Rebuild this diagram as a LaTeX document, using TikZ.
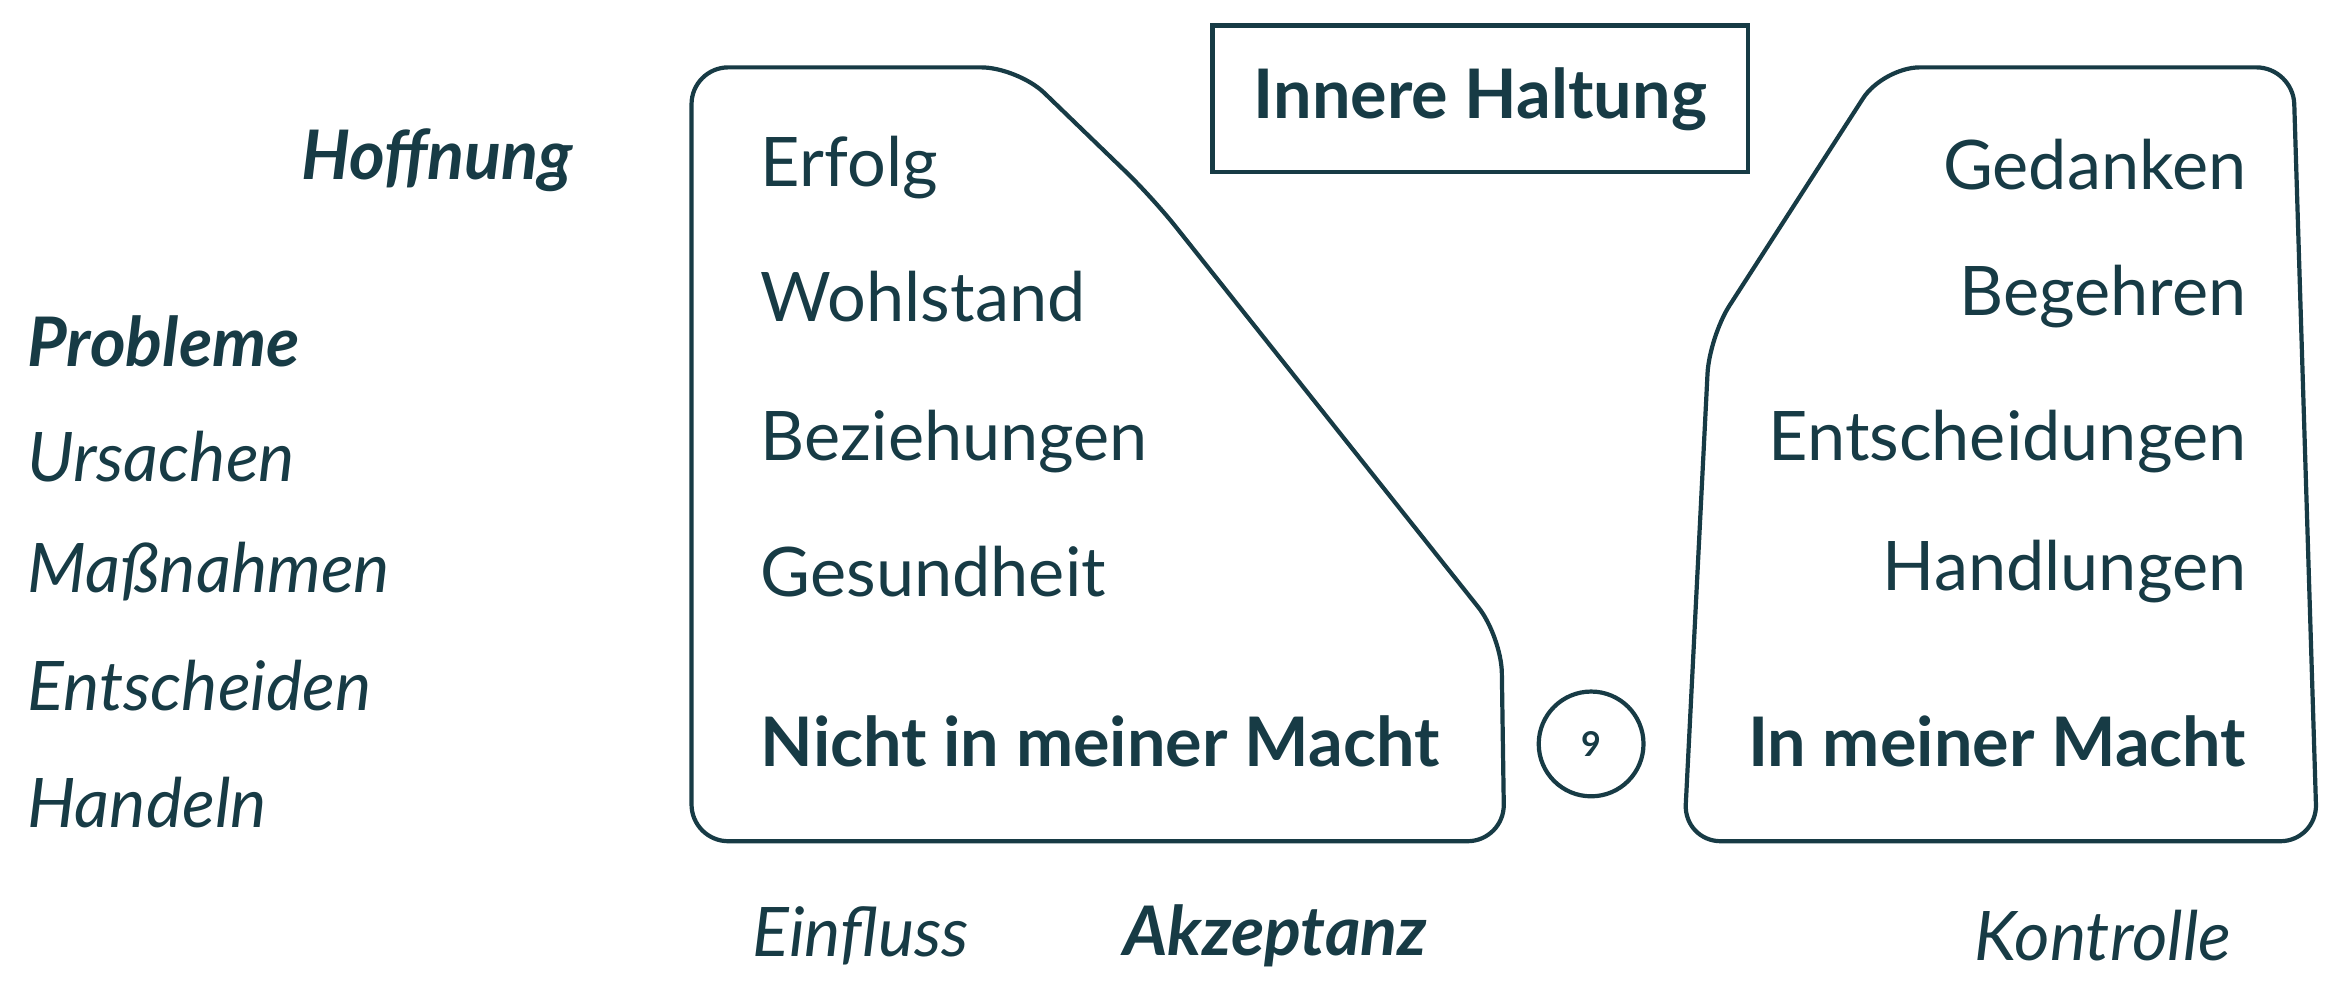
\documentclass[tikz,border=0pt]{standalone}
\usepackage{fontspec}
\setmainfont{Lato}
\definecolor{ink}{HTML}{173B45}
\begin{document}
\begin{tikzpicture}[x=0.02cm,y=-0.02cm,
  txt/.style={font=\fontsize{26}{30}\selectfont,text=ink,inner sep=0pt},
  bld/.style={txt,font=\fontsize{26}{30}\selectfont\bfseries},
  itl/.style={txt,font=\fontsize{26}{30}\selectfont\itshape},
  bit/.style={txt,font=\fontsize{26}{30}\selectfont\bfseries\itshape},
  shp/.style={draw=ink,line width=1.6pt,rounded corners=14}]
\useasboundingbox (0,0) rectangle (1568,670);
% left shape
\draw[shp] (462,45) -- (680,45) -- (770,132) -- (1003,425) -- (1005,562) -- (462,562) -- cycle;
% right shape
\draw[shp] (1258,45) -- (1532,45) -- (1548,562) -- (1125,562) -- (1142,225) -- cycle;
\node[draw=ink,line width=1.6pt,minimum width=358*0.02cm,minimum height=98*0.02cm,bld] (ih) at (989,66) {Innere Haltung};
\node[draw=ink,line width=1.6pt,circle,minimum size=70*0.02cm,inner sep=0pt,font=\fontsize{13}{15}\selectfont\bfseries,text=ink] (nine) at (1063,497) {9};
\node[bit,anchor=east] (hof) at (383,107) {Hoffnung};
\node[bit,anchor=west] (pro) at (18,228) {Probleme};
\node[itl,anchor=west] (urs) at (18,305) {Ursachen};
\node[itl,anchor=west] (mas) at (18,382) {Maßnahmen};
\node[itl,anchor=west] (ent) at (18,458) {Entscheiden};
\node[itl,anchor=west] (han) at (18,536) {Handeln};
\node[txt,anchor=west] (erf) at (508,112) {Erfolg};
\node[txt,anchor=west] (woh) at (508,198) {Wohlstand};
\node[txt,anchor=west] (bez) at (508,295) {Beziehungen};
\node[txt,anchor=west] (ges) at (508,382) {Gesundheit};
\node[bld,anchor=west] (nim) at (508,495) {Nicht in meiner Macht};
\node[txt,anchor=east] (ged) at (1501,110) {Gedanken};
\node[txt,anchor=east] (beg) at (1501,198) {Begehren};
\node[txt,anchor=east] (ents) at (1501,295) {Entscheidungen};
\node[txt,anchor=east] (hdl) at (1501,382) {Handlungen};
\node[bld,anchor=east] (imm) at (1501,495) {In meiner Macht};
\node[itl] (ein) at (575,625) {Einfluss};
\node[bit] (akz) at (852,625) {Akzeptanz};
\node[itl,anchor=east] (kon) at (1491,625) {Kontrolle};
\end{tikzpicture}
\end{document}
